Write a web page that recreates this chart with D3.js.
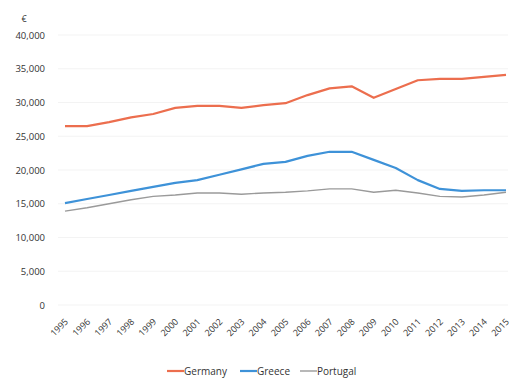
<!DOCTYPE html>
<html>
<head>
<meta charset="UTF-8">
<title>GDP per capita</title>
<script src="https://cdn.jsdelivr.net/npm/d3@7"></script>
<style>
  body { margin: 0; background: #fff; }
  text { font-family: "Open Sans", Lato, sans-serif; fill: #333; }
</style>
</head>
<body>
<div id="chart"></div>
<script>
// years on the category axis
var years = [1995, 1996, 1997, 1998, 1999, 2000, 2001, 2002, 2003, 2004, 2005,
             2006, 2007, 2008, 2009, 2010, 2011, 2012, 2013, 2014, 2015];

// values in euro
var germany = [26500, 26500, 27100, 27800, 28300, 29200, 29500, 29500, 29200, 29600, 29900,
               31100, 32100, 32400, 30700, 32000, 33300, 33500, 33500, 33800, 34100];
var greece = [15100, 15700, 16300, 16900, 17500, 18100, 18500, 19300, 20100, 20900, 21200,
              22100, 22700, 22700, 21500, 20300, 18500, 17200, 16900, 17000, 17000];
var portugal = [13900, 14400, 15000, 15600, 16100, 16300, 16600, 16600, 16400, 16600, 16700,
                16900, 17200, 17200, 16700, 17000, 16600, 16100, 16000, 16300, 16700];

var yTicks = [0, 5000, 10000, 15000, 20000, 25000, 30000, 35000, 40000];

var series = [
    {name: "Germany", values: germany, color: "#ec6e4e", width: 2.2},
    {name: "Greece", values: greece, color: "#3e92d8", width: 2.2},
    {name: "Portugal", values: portugal, color: "#9a9a9a", width: 1.4}
];

var svgW = 512, svgH = 389;
var svg = d3.select("#chart").append("svg")
        .attr("width", svgW)
        .attr("height", svgH);

var x = d3.scalePoint().domain(years).range([65, 506]);
var y = d3.scaleLinear().domain([0, 40000]).range([305, 35]);

// faint gridlines
svg.append("g").selectAll("line")
        .data(yTicks)
        .enter().append("line")
        .attr("x1", 58).attr("x2", 508)
        .attr("y1", function (d) { return y(d); })
        .attr("y2", function (d) { return y(d); })
        .attr("stroke", "#f3f3f3")
        .attr("stroke-width", 1);

// y axis labels
var yAxis = d3.axisLeft(y).tickValues(yTicks).tickSize(0).tickPadding(0)
        .tickFormat(function (d) { return d3.format(",")(d); });
var gy = svg.append("g").attr("transform", "translate(45,0)").call(yAxis);
gy.select(".domain").remove();
gy.selectAll("text").style("font-size", "9.5px").attr("fill", "#333");

svg.append("text")
        .attr("x", 24).attr("y", 22)
        .attr("text-anchor", "middle")
        .style("font-size", "9px")
        .text("€");

// x axis labels, rotated
var xAxis = d3.axisBottom(x).tickSize(0).tickPadding(0);
var gx = svg.append("g").attr("transform", "translate(0,320)").call(xAxis);
gx.select(".domain").remove();
gx.selectAll("text")
        .style("font-size", "9px")
        .attr("fill", "#333")
        .attr("text-anchor", "end")
        .attr("dy", "0.35em")
        .attr("transform", "translate(1,0) rotate(-45)");

// lines
var line = d3.line()
        .x(function (d, i) { return x(years[i]); })
        .y(function (d) { return y(d); });

svg.append("g").selectAll("path")
        .data(series)
        .enter().append("path")
        .attr("d", function (d) { return line(d.values); })
        .attr("fill", "none")
        .attr("stroke", function (d) { return d.color; })
        .attr("stroke-width", function (d) { return d.width; })
        .attr("stroke-linejoin", "round");

// legend
var legendX = [167, 240, 300];
var legend = svg.append("g").selectAll("g")
        .data(series)
        .enter().append("g")
        .attr("transform", function (d, i) { return "translate(" + legendX[i] + ",371)"; });
legend.append("line")
        .attr("x1", 0).attr("x2", 17)
        .attr("stroke", function (d) { return d.color; })
        .attr("stroke-width", function (d) { return d.width; });
legend.append("text")
        .attr("x", 17).attr("dy", "0.35em")
        .style("font-size", "10px")
        .text(function (d) { return d.name; });
</script>
</body>
</html>
